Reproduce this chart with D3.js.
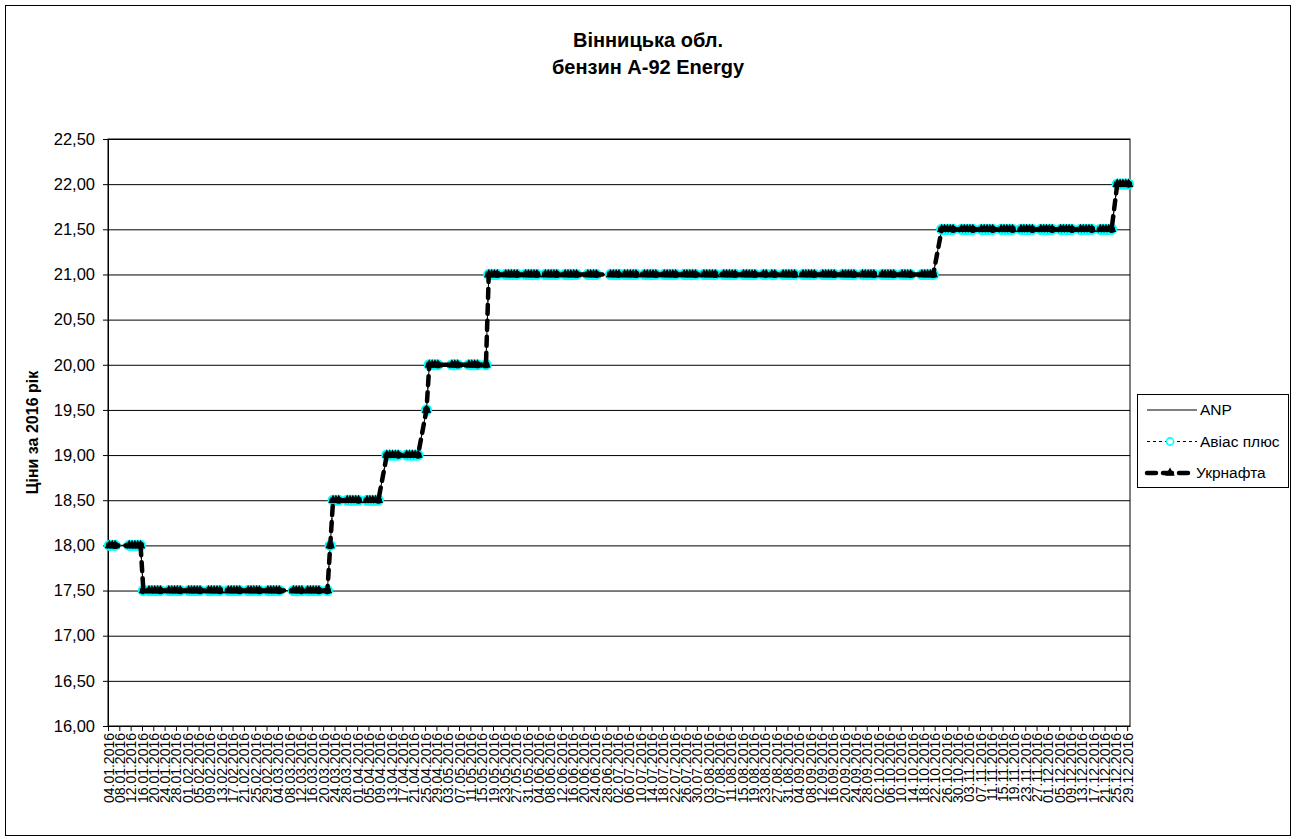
<!DOCTYPE html>
<html>
<head>
<meta charset="utf-8">
<script src="https://cdn.jsdelivr.net/npm/d3@7"></script>
<style>
  html, body { margin: 0; padding: 0; background: #fff; }
  svg { display: block; font-family: "Liberation Sans", Arial, sans-serif; }
</style>
</head>
<body>
<div id="chart"></div>
<script>
// Вінницька обл., бензин А-92 Energy — daily prices 2016 (working days), three retailers.
(function () {
  "use strict";

  const YEAR = "2016";

  // working days with a price record (dd.mm)
  const dates = [
    "04.01","05.01","06.01","11.01","12.01","13.01","14.01","15.01","16.01","18.01","19.01","20.01","21.01","22.01","25.01","26.01","27.01","28.01","29.01",
    "01.02","02.02","03.02","04.02","05.02","08.02","09.02","10.02","11.02","12.02","15.02","16.02","17.02","18.02","19.02","22.02","23.02","24.02","25.02","26.02","29.02",
    "01.03","02.03","03.03","04.03","09.03","10.03","11.03","12.03","14.03","15.03","16.03","17.03","18.03","21.03","22.03","23.03","24.03","25.03","28.03","29.03","30.03","31.03",
    "01.04","04.04","05.04","06.04","07.04","08.04","11.04","12.04","13.04","14.04","15.04","18.04","19.04","20.04","21.04","22.04","25.04","26.04","27.04","28.04","29.04",
    "04.05","05.05","06.05","10.05","11.05","12.05","13.05","16.05","17.05","18.05","19.05","20.05","23.05","24.05","25.05","26.05","27.05","30.05","31.05",
    "01.06","02.06","03.06","06.06","07.06","08.06","09.06","10.06","13.06","14.06","15.06","16.06","17.06","21.06","22.06","23.06","24.06","29.06","30.06",
    "01.07","02.07","04.07","05.07","06.07","07.07","08.07","11.07","12.07","13.07","14.07","15.07","18.07","19.07","20.07","21.07","22.07","25.07","26.07","27.07","28.07","29.07",
    "01.08","02.08","03.08","04.08","05.08","08.08","09.08","10.08","11.08","12.08","15.08","16.08","17.08","18.08","19.08","22.08","23.08","25.08","26.08","29.08","30.08","31.08",
    "01.09","02.09","05.09","06.09","07.09","08.09","09.09","12.09","13.09","14.09","15.09","16.09","19.09","20.09","21.09","22.09","23.09","26.09","27.09","28.09","29.09","30.09",
    "03.10","04.10","05.10","06.10","07.10","10.10","11.10","12.10","13.10","17.10","18.10","19.10","20.10","21.10","24.10","25.10","26.10","27.10","28.10","31.10",
    "01.11","02.11","03.11","04.11","07.11","08.11","09.11","10.11","11.11","14.11","15.11","16.11","17.11","18.11","21.11","22.11","23.11","24.11","25.11","28.11","29.11","30.11",
    "01.12","02.12","05.12","06.12","07.12","08.12","09.12","12.12","13.12","14.12","15.12","16.12","19.12","20.12","21.12","22.12","23.12","25.12","26.12","27.12","28.12","29.12"
  ];

  // ANP, грн/л
  const anp = [
    18, 18, 18, 18, 18, 18, 18, 18, 17.5, 17.5, 17.5, 17.5, 17.5, 17.5, 17.5, 17.5, 17.5, 17.5, 17.5,
    17.5, 17.5, 17.5, 17.5, 17.5, 17.5, 17.5, 17.5, 17.5, 17.5, 17.5, 17.5, 17.5, 17.5, 17.5, 17.5, 17.5, 17.5, 17.5, 17.5, 17.5,
    17.5, 17.5, 17.5, 17.5, 17.5, 17.5, 17.5, 17.5, 17.5, 17.5, 17.5, 17.5, 17.5, 17.5, 18, 18.5, 18.5, 18.5, 18.5, 18.5, 18.5, 18.5,
    18.5, 18.5, 18.5, 18.5, 18.5, 18.5, 19, 19, 19, 19, 19, 19, 19, 19, 19, 19, 19.5, 20, 20, 20, 20,
    20, 20, 20, 20, 20, 20, 20, 20, 21, 21, 21, 21, 21, 21, 21, 21, 21, 21, 21,
    21, 21, 21, 21, 21, 21, 21, 21, 21, 21, 21, 21, 21, 21, 21, 21, 21, 21, 21,
    21, 21, 21, 21, 21, 21, 21, 21, 21, 21, 21, 21, 21, 21, 21, 21, 21, 21, 21, 21, 21, 21,
    21, 21, 21, 21, 21, 21, 21, 21, 21, 21, 21, 21, 21, 21, 21, 21, 21, 21, 21, 21, 21, 21,
    21, 21, 21, 21, 21, 21, 21, 21, 21, 21, 21, 21, 21, 21, 21, 21, 21, 21, 21, 21, 21, 21,
    21, 21, 21, 21, 21, 21, 21, 21, 21, 21, 21, 21, 21, 21, 21.5, 21.5, 21.5, 21.5, 21.5, 21.5,
    21.5, 21.5, 21.5, 21.5, 21.5, 21.5, 21.5, 21.5, 21.5, 21.5, 21.5, 21.5, 21.5, 21.5, 21.5, 21.5, 21.5, 21.5, 21.5, 21.5, 21.5, 21.5,
    21.5, 21.5, 21.5, 21.5, 21.5, 21.5, 21.5, 21.5, 21.5, 21.5, 21.5, 21.5, 21.5, 21.5, 21.5, 21.5, 21.5, 22, 22, 22, 22, 22
  ];

  // Авіас плюс
  const avias = [
    18, 18, 18, 18, 18, 18, 18, 18, 17.5, 17.5, 17.5, 17.5, 17.5, 17.5, 17.5, 17.5, 17.5, 17.5, 17.5,
    17.5, 17.5, 17.5, 17.5, 17.5, 17.5, 17.5, 17.5, 17.5, 17.5, 17.5, 17.5, 17.5, 17.5, 17.5, 17.5, 17.5, 17.5, 17.5, 17.5, 17.5,
    17.5, 17.5, 17.5, 17.5, 17.5, 17.5, 17.5, 17.5, 17.5, 17.5, 17.5, 17.5, 17.5, 17.5, 18, 18.5, 18.5, 18.5, 18.5, 18.5, 18.5, 18.5,
    18.5, 18.5, 18.5, 18.5, 18.5, 18.5, 19, 19, 19, 19, 19, 19, 19, 19, 19, 19, 19.5, 20, 20, 20, 20,
    20, 20, 20, 20, 20, 20, 20, 20, 21, 21, 21, 21, 21, 21, 21, 21, 21, 21, 21,
    21, 21, 21, 21, 21, 21, 21, 21, 21, 21, 21, 21, 21, 21, 21, 21, 21, 21, 21,
    21, 21, 21, 21, 21, 21, 21, 21, 21, 21, 21, 21, 21, 21, 21, 21, 21, 21, 21, 21, 21, 21,
    21, 21, 21, 21, 21, 21, 21, 21, 21, 21, 21, 21, 21, 21, 21, 21, 21, 21, 21, 21, 21, 21,
    21, 21, 21, 21, 21, 21, 21, 21, 21, 21, 21, 21, 21, 21, 21, 21, 21, 21, 21, 21, 21, 21,
    21, 21, 21, 21, 21, 21, 21, 21, 21, 21, 21, 21, 21, 21, 21.5, 21.5, 21.5, 21.5, 21.5, 21.5,
    21.5, 21.5, 21.5, 21.5, 21.5, 21.5, 21.5, 21.5, 21.5, 21.5, 21.5, 21.5, 21.5, 21.5, 21.5, 21.5, 21.5, 21.5, 21.5, 21.5, 21.5, 21.5,
    21.5, 21.5, 21.5, 21.5, 21.5, 21.5, 21.5, 21.5, 21.5, 21.5, 21.5, 21.5, 21.5, 21.5, 21.5, 21.5, 21.5, 22, 22, 22, 22, 22
  ];

  // Укрнафта
  const ukrnafta = [
    18, 18, 18, 18, 18, 18, 18, 18, 17.5, 17.5, 17.5, 17.5, 17.5, 17.5, 17.5, 17.5, 17.5, 17.5, 17.5,
    17.5, 17.5, 17.5, 17.5, 17.5, 17.5, 17.5, 17.5, 17.5, 17.5, 17.5, 17.5, 17.5, 17.5, 17.5, 17.5, 17.5, 17.5, 17.5, 17.5, 17.5,
    17.5, 17.5, 17.5, 17.5, 17.5, 17.5, 17.5, 17.5, 17.5, 17.5, 17.5, 17.5, 17.5, 17.5, 18, 18.5, 18.5, 18.5, 18.5, 18.5, 18.5, 18.5,
    18.5, 18.5, 18.5, 18.5, 18.5, 18.5, 19, 19, 19, 19, 19, 19, 19, 19, 19, 19, 19.5, 20, 20, 20, 20,
    20, 20, 20, 20, 20, 20, 20, 20, 21, 21, 21, 21, 21, 21, 21, 21, 21, 21, 21,
    21, 21, 21, 21, 21, 21, 21, 21, 21, 21, 21, 21, 21, 21, 21, 21, 21, 21, 21,
    21, 21, 21, 21, 21, 21, 21, 21, 21, 21, 21, 21, 21, 21, 21, 21, 21, 21, 21, 21, 21, 21,
    21, 21, 21, 21, 21, 21, 21, 21, 21, 21, 21, 21, 21, 21, 21, 21, 21, 21, 21, 21, 21, 21,
    21, 21, 21, 21, 21, 21, 21, 21, 21, 21, 21, 21, 21, 21, 21, 21, 21, 21, 21, 21, 21, 21,
    21, 21, 21, 21, 21, 21, 21, 21, 21, 21, 21, 21, 21, 21, 21.5, 21.5, 21.5, 21.5, 21.5, 21.5,
    21.5, 21.5, 21.5, 21.5, 21.5, 21.5, 21.5, 21.5, 21.5, 21.5, 21.5, 21.5, 21.5, 21.5, 21.5, 21.5, 21.5, 21.5, 21.5, 21.5, 21.5, 21.5,
    21.5, 21.5, 21.5, 21.5, 21.5, 21.5, 21.5, 21.5, 21.5, 21.5, 21.5, 21.5, 21.5, 21.5, 21.5, 21.5, 21.5, 22, 22, 22, 22, 22
  ];

  const yTicks = [16, 16.5, 17, 17.5, 18, 18.5, 19, 19.5, 20, 20.5, 21, 21.5, 22, 22.5];
  const X_FIRST = "04.01.2016";   // first date label
  const X_LAST  = "30.12.2016";   // axis end
  const X_STEP  = 4;              // label every 4 days

  const TITLE = ["Вінницька обл.", "бензин А-92 Energy"];
  const Y_TITLE = "Ціни за 2016 рік";
  const NAMES = ["ANP", "Авіас плюс", "Укрнафта"];

  if (anp.length !== dates.length || avias.length !== dates.length || ukrnafta.length !== dates.length) {
    console.error("length mismatch", dates.length, anp.length, avias.length, ukrnafta.length);
  }

  const W = 1299, H = 839;
  const P = { left: 108, right: 1130, top: 139, bottom: 726 };
  const CYAN = "#00ffff";

  const parse = d3.utcParse("%d.%m.%Y");
  const fmt = d3.utcFormat("%d.%m.%Y");
  const comma = function (v) { return d3.format(".2f")(v).replace(".", ","); };

  const rows = dates.map(function (s, i) {
    // mark sits in the middle of its day slot
    return { t: d3.utcHour.offset(parse(s + "." + YEAR), 12), v: [anp[i], avias[i], ukrnafta[i]] };
  });

  const x = d3.scaleUtc().domain([parse(X_FIRST), parse(X_LAST)]).range([P.left, P.right]);
  const y = d3.scaleLinear().domain([16, 22.5]).range([P.bottom, P.top]);

  const svg = d3.select("#chart").append("svg")
    .attr("width", W).attr("height", H);

  svg.append("rect").attr("width", W).attr("height", H).attr("fill", "#fff");

  // chart border
  svg.append("rect")
    .attr("x", 5.5).attr("y", 5.5).attr("width", 1285).attr("height", 830)
    .attr("fill", "none").attr("stroke", "#000").attr("stroke-width", 1);

  // title
  svg.append("text")
    .attr("x", 648).attr("y", 47)
    .attr("text-anchor", "middle")
    .attr("font-size", 20).attr("font-weight", "bold")
    .selectAll("tspan").data(TITLE).join("tspan")
    .attr("x", 648).attr("dy", function (d, i) { return i ? 27 : 0; })
    .text(function (d) { return d; });

  // gridlines
  svg.append("g")
    .attr("transform", "translate(" + P.left + ",0)")
    .call(d3.axisLeft(y).tickValues(yTicks).tickSize(-(P.right - P.left)).tickFormat(""))
    .call(function (g) { g.select(".domain").remove(); })
    .selectAll("line").attr("stroke", "#000");

  // plot frame
  svg.append("rect")
    .attr("x", P.left).attr("y", P.top)
    .attr("width", P.right - P.left).attr("height", P.bottom - P.top)
    .attr("fill", "none").attr("stroke", "#000");

  // y axis
  const gy = svg.append("g")
    .attr("transform", "translate(" + P.left + ",0)")
    .call(d3.axisLeft(y).tickValues(yTicks).tickSize(5).tickSizeOuter(0).tickPadding(8).tickFormat(comma));
  gy.selectAll("text").attr("font-size", 16.5).attr("fill", "#000").attr("font-family", null);
  gy.selectAll("line, path").attr("stroke", "#000");

  svg.append("text")
    .attr("transform", "translate(38," + ((P.top + P.bottom) / 2) + ") rotate(-90)")
    .attr("text-anchor", "middle")
    .attr("font-size", 16).attr("font-weight", "bold")
    .text(Y_TITLE);

  // x axis — date labels every 4 days
  const xTicks = d3.utcDay.range(parse(X_FIRST), parse(X_LAST), X_STEP);
  const gx = svg.append("g")
    .attr("transform", "translate(0," + P.bottom + ")")
    .call(d3.axisBottom(x).tickValues(xTicks).tickSize(5).tickSizeOuter(0).tickFormat(fmt));
  gx.selectAll("line, path").attr("stroke", "#000");
  gx.selectAll("text")
    .attr("font-size", 14).attr("fill", "#000").attr("font-family", null)
    .attr("transform", "rotate(-90)")
    .attr("x", -7).attr("y", 0).attr("dy", "0.36em")
    .attr("text-anchor", "end");

  // series
  const line = function (k) {
    return d3.line().x(function (d) { return x(d.t); }).y(function (d) { return y(d.v[k]); });
  };

  // ANP — thin solid
  svg.append("path").datum(rows)
    .attr("d", line(0)).attr("fill", "none")
    .attr("stroke", "#000").attr("stroke-width", 1);

  // Авіас плюс — thin dashed, cyan open circles
  svg.append("path").datum(rows)
    .attr("d", line(1)).attr("fill", "none")
    .attr("stroke", "#000").attr("stroke-width", 1).attr("stroke-dasharray", "3,3");
  svg.append("g").selectAll("circle").data(rows).join("circle")
    .attr("cx", function (d) { return x(d.t); })
    .attr("cy", function (d) { return y(d.v[1]); })
    .attr("r", 4.6)
    .attr("fill", "#000").attr("stroke", CYAN).attr("stroke-width", 2);

  // Укрнафта — thick long dash, small black triangles
  svg.append("path").datum(rows)
    .attr("d", line(2)).attr("fill", "none")
    .attr("stroke", "#000").attr("stroke-width", 4.5)
    .attr("stroke-dasharray", "9,7").attr("stroke-linecap", "round");
  const tri = d3.symbol(d3.symbolTriangle, 40);
  svg.append("g").selectAll("path").data(rows).join("path")
    .attr("transform", function (d) { return "translate(" + x(d.t) + "," + y(d.v[2]) + ")"; })
    .attr("d", tri).attr("fill", "#000");

  // legend
  const lg = svg.append("g");
  lg.append("rect")
    .attr("x", 1137.5).attr("y", 394.5).attr("width", 151).attr("height", 93)
    .attr("fill", "#fff").attr("stroke", "#000");

  NAMES.forEach(function (name, i) {
    const ly = 410 + i * 31.5;
    if (i === 0) {
      lg.append("line").attr("x1", 1147).attr("x2", 1197).attr("y1", ly).attr("y2", ly)
        .attr("stroke", "#000").attr("stroke-width", 1);
    } else if (i === 1) {
      lg.append("line").attr("x1", 1147).attr("x2", 1197).attr("y1", ly).attr("y2", ly)
        .attr("stroke", "#000").attr("stroke-width", 1).attr("stroke-dasharray", "3,3");
      lg.append("circle").attr("cx", 1170).attr("cy", ly).attr("r", 3.6)
        .attr("fill", "#fff").attr("stroke", CYAN).attr("stroke-width", 1.6);
    } else {
      lg.append("line").attr("x1", 1147).attr("x2", 1194).attr("y1", ly).attr("y2", ly)
        .attr("stroke", "#000").attr("stroke-width", 4.5)
        .attr("stroke-dasharray", "9,7").attr("stroke-linecap", "round");
      lg.append("path").attr("transform", "translate(1170," + ly + ")")
        .attr("d", tri).attr("fill", "#000");
    }
    lg.append("text")
      .attr("x", i === 2 ? 1196 : 1200).attr("y", ly + 5)
      .attr("font-size", 15.5).attr("fill", "#000")
      .text(name);
  });
})();
</script>
</body>
</html>
